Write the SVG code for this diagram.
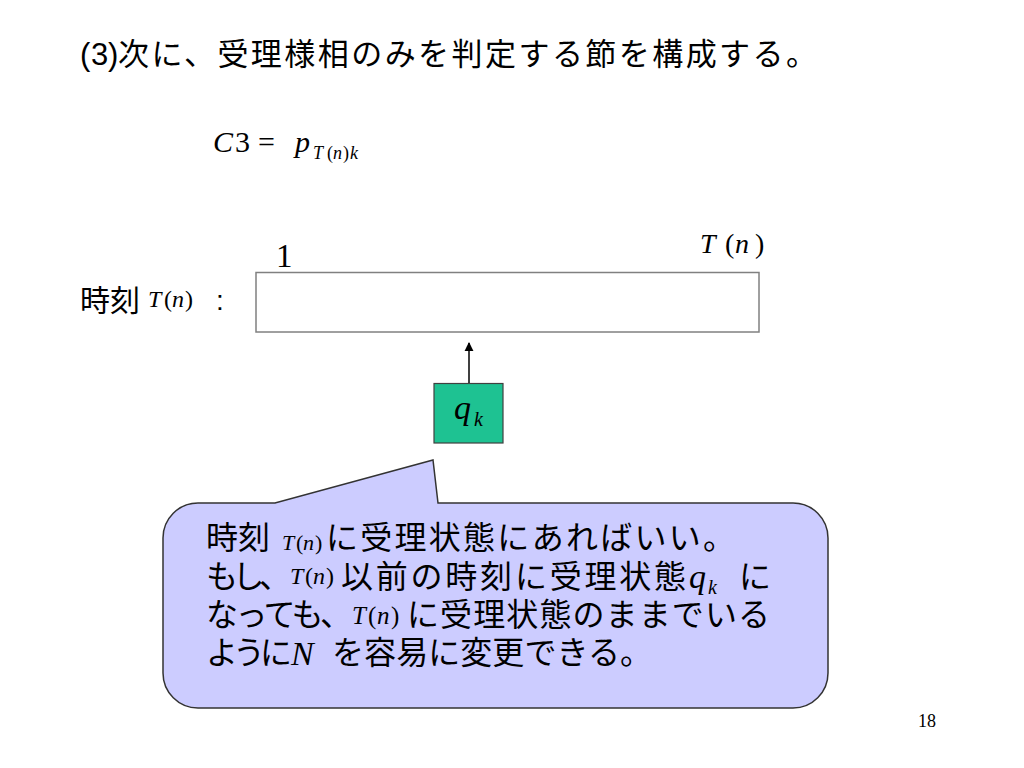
<svg xmlns="http://www.w3.org/2000/svg" width="1024" height="768" viewBox="0 0 1024 768">
<defs>
<style>
.jp{font-family:"Liberation Sans","Noto Sans CJK JP",sans-serif;fill:#000}
.m{font-family:"Liberation Serif",serif;fill:#000}
.i{font-style:italic}
</style>
<marker id="ah" viewBox="0 0 10 10" refX="9" refY="5" markerWidth="9" markerHeight="10" markerUnits="userSpaceOnUse" orient="auto">
<path d="M0,0 L10,5 L0,10 Z" fill="#000"/>
</marker>
</defs>
<rect width="1024" height="768" fill="#fff"/>

<g id="title">
<text class="jp" x="80 91 108" y="65" font-size="31">(3)</text>
<text class="jp" x="118" y="65" font-size="31" textLength="699" lengthAdjust="spacing">次に、受理様相のみを判定する節を構成する。</text>
</g>

<g id="formula">
<text class="m" y="152" font-size="30"><tspan class="i" x="213">C</tspan><tspan x="235">3</tspan><tspan x="258">=</tspan><tspan class="i" x="295">p</tspan></text>
<text class="m" y="159" font-size="18"><tspan class="i" x="313">T</tspan><tspan x="327">(</tspan><tspan class="i" x="333">n</tspan><tspan x="343">)</tspan><tspan class="i" x="350">k</tspan></text>
</g>

<g id="timeline">
<text class="jp" x="80" y="311" font-size="30">時刻</text>
<text class="m" y="307" font-size="24"><tspan class="i" x="148">T</tspan><tspan x="164">(</tspan><tspan class="i" x="172">n</tspan><tspan x="185">)</tspan></text>
<text class="jp" x="216" y="310" font-size="28">:</text>
<text class="m" x="276" y="267" font-size="33">1</text>
<text class="m" y="253" font-size="28"><tspan class="i" x="700">T</tspan><tspan x="725">(</tspan><tspan class="i" x="735">n</tspan><tspan x="755">)</tspan></text>
<rect x="256" y="272.5" width="503" height="59.5" fill="#fff" stroke="#808080" stroke-width="1.5"/>
</g>

<g id="qk">
<rect x="434" y="383.5" width="69" height="59.5" fill="#1ec292" stroke="#404040" stroke-width="1.2"/>
<text class="m i" x="454" y="419" font-size="34">q</text>
<text class="m i" x="474" y="426" font-size="20">k</text>
</g>

<g id="connectors">
<line x1="469" y1="383" x2="469" y2="343" stroke="#000" stroke-width="1.5" marker-end="url(#ah)"/>
</g>

<g id="callout">
<path d="M198,503 L275,503 L433,460 L438,503 L793,503 A35,35 0 0 1 828,538 L828,673 A35,35 0 0 1 793,708 L198,708 A35,35 0 0 1 163,673 L163,538 A35,35 0 0 1 198,503 Z" fill="#ccccff" stroke="#333" stroke-width="1.5"/>
<text class="jp" x="206" y="549" font-size="32">時刻</text>
<text class="m" y="550" font-size="22"><tspan class="i" x="282">T</tspan><tspan x="296">(</tspan><tspan class="i" x="303">n</tspan><tspan x="315">)</tspan></text>
<text class="jp" x="326" y="549" font-size="32" textLength="409" lengthAdjust="spacing">に受理状態にあればいい。</text>

<text class="jp" x="206" y="588" font-size="32" textLength="85" lengthAdjust="spacing">もし、</text>
<text class="m" y="584" font-size="24"><tspan class="i" x="290">T</tspan><tspan x="305">(</tspan><tspan class="i" x="313">n</tspan><tspan x="326">)</tspan></text>
<text class="jp" x="341" y="588" font-size="32" textLength="345" lengthAdjust="spacing">以前の時刻に受理状態</text>
<text class="m i" x="689" y="588" font-size="34">q</text>
<text class="m i" x="708" y="594" font-size="20">k</text>
<text class="jp" x="739" y="588" font-size="32">に</text>

<text class="jp" x="206" y="626" font-size="32" textLength="146" lengthAdjust="spacing">なっても、</text>
<text class="m" y="624" font-size="25"><tspan class="i" x="352">T</tspan><tspan x="368">(</tspan><tspan class="i" x="377">n</tspan><tspan x="391">)</tspan></text>
<text class="jp" x="407" y="626" font-size="32" textLength="363" lengthAdjust="spacing">に受理状態のままでいる</text>

<text class="jp" x="206" y="664" font-size="32" textLength="86" lengthAdjust="spacing">ように</text>
<text class="m i" x="291" y="665" font-size="34">N</text>
<text class="jp" x="332" y="664" font-size="32" textLength="320" lengthAdjust="spacing">を容易に変更できる。</text>
</g>

<g id="page">
<text class="m" x="918" y="727" font-size="18">18</text>
</g>
</svg>
